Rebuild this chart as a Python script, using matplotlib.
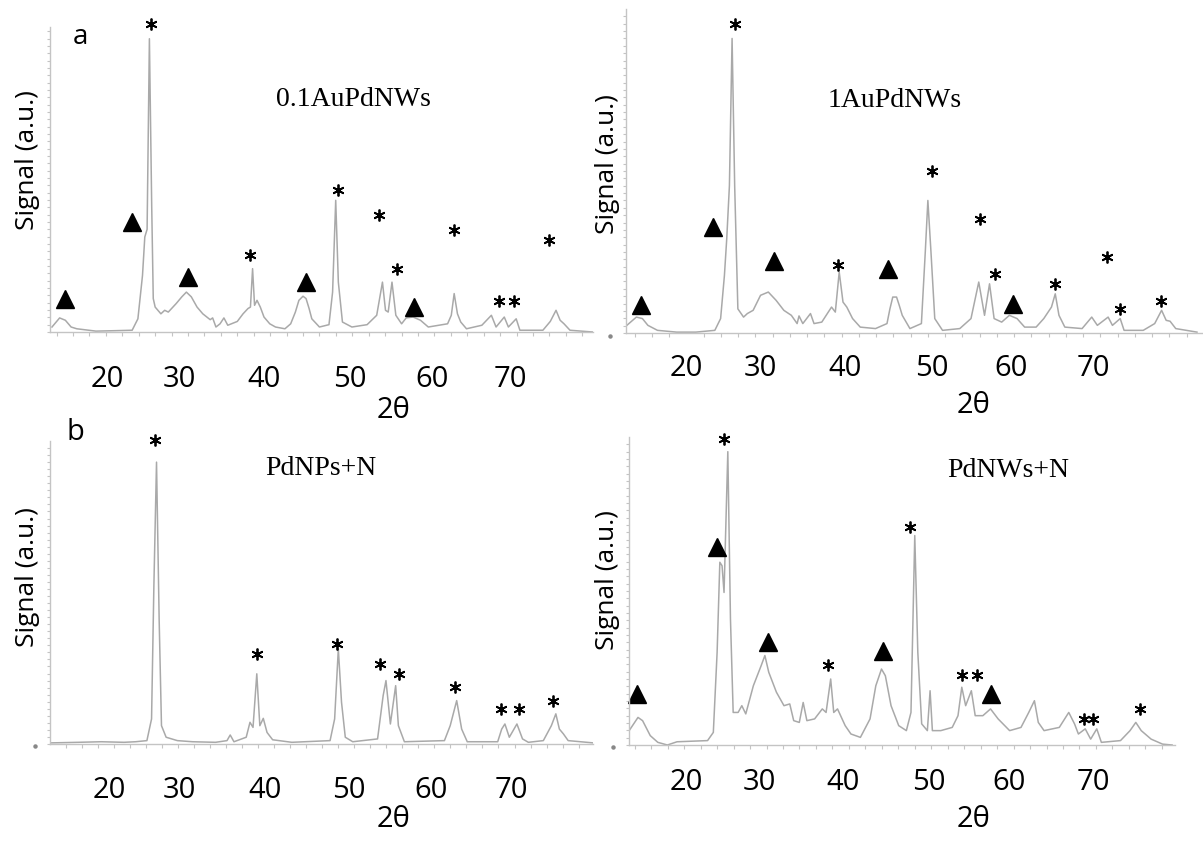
import numpy as np
import matplotlib
matplotlib.use("Agg")
import matplotlib.pyplot as plt
from matplotlib.lines import Line2D

W, H = 1203, 845

# ---- panel a: 0.1AuPdNWs ----
a_theta = [13.44, 14.37, 15.07, 15.77, 16.46, 18.79, 21.1, 23.2, 23.9, 24.46, 24.74, 25.02,
           25.3, 25.58, 25.77, 26.0, 26.7, 27.16, 27.6, 28.56, 29.25, 29.8, 30.4, 31.1,
           31.8, 32.7, 33.0, 33.4, 33.9, 34.37, 34.84, 36.0, 36.7, 37.3, 37.6, 37.86,
           38.1, 38.4, 38.8, 39.25, 39.95, 40.65, 41.8, 42.5, 43.07, 43.5, 44.0, 44.37,
           44.74, 45.07, 46.0, 47.16, 47.6, 47.98, 48.3, 48.8, 49.95, 51.8, 52.97, 53.67,
           54.04, 54.37, 54.83, 55.3, 56.0, 56.56, 57.4, 58.3, 59.25, 61.6, 62.05, 62.4,
           62.8, 63.2, 63.9, 65.77, 66.93, 67.5, 68.5, 69.0, 69.95, 70.4, 73.2, 74.1,
           74.8, 75.3, 75.77, 76.5, 79.25]
a_signal = [1.7, 4.8, 4.0, 1.7, 1.1, 0.3, 0.45, 0.6, 4.5, 19.3, 32.4, 35.0,
            100, 43.0, 11.4, 8.5, 6.2, 7.4, 6.8, 9.7, 12.0, 13.6, 12.0, 8.5,
            6.2, 4.2, 4.8, 1.7, 2.8, 4.8, 2.3, 3.6, 6.2, 8.0, 8.5, 21.6,
            9.1, 10.8, 8.5, 5.1, 2.8, 1.7, 1.1, 2.8, 6.8, 10.8, 12.2, 11.4,
            8.0, 4.5, 1.7, 2.5, 13.6, 44.9, 17.0, 3.4, 1.7, 2.5, 5.7, 17.0,
            7.4, 6.8, 17.0, 5.7, 2.8, 4.8, 5.1, 4.0, 1.7, 2.8, 5.7, 13.1,
            6.2, 3.4, 1.1, 2.3, 5.7, 1.7, 5.1, 1.7, 4.5, 0.6, 0.6, 3.6,
            7.4, 4.0, 2.8, 0.6, 0.0]
a_star_theta = [25.5, 37.6, 48.2, 53.3, 55.5, 62.4, 67.9, 69.7, 73.9]
a_star_h = [105, 26.4, 48.3, 39.8, 21.6, 34.7, 10.5, 10.5, 31.3]
a_tri_theta = [15.0, 23.2, 30.0, 44.4, 57.5]
a_tri_h = [11.4, 37.5, 18.8, 17.0, 8.5]
a_ticks = [20.2, 29.0, 39.3, 49.7, 59.7, 69.3]

# ---- panel b: 1AuPdNWs ----
b_theta = [13.1, 14.2, 14.9, 15.54, 16.65, 18.87, 21.1, 23.3, 23.97, 24.41, 24.68, 24.99,
           25.3, 25.6, 25.97, 26.63, 27.07, 27.74, 28.6, 29.5, 30.4, 31.3, 32.17, 32.84,
           33.06, 33.5, 34.39, 34.8, 35.7, 36.83, 37.27, 37.72, 38.16, 38.6, 39.27, 40.16,
           41.93, 43.26, 43.6, 43.93, 44.37, 44.68, 45.03, 45.92, 47.25, 47.7, 48.0, 48.36,
           48.8, 49.7, 51.7, 53.0, 53.9, 54.57, 55.15, 55.68, 56.56, 57.45, 58.34, 59.22,
           60.55, 61.44, 62.33, 62.77, 63.2, 63.88, 65.88, 67.0, 67.65, 68.9, 69.4, 70.3,
           70.75, 72.97, 74.3, 75.1, 75.63, 76.08, 76.74, 79.2]
b_signal = [2.6, 5.4, 4.9, 2.6, 0.9, 0.3, 0.3, 0.9, 4.9, 19.5, 32.0, 50.0,
            100, 50.0, 8.2, 5.4, 6.6, 7.7, 12.8, 13.9, 11.1, 7.7, 6.0, 3.2,
            5.8, 3.2, 6.6, 3.2, 3.7, 8.8, 7.1, 20.7, 10.5, 8.8, 4.9, 2.0,
            1.5, 3.2, 8.2, 12.2, 12.2, 9.4, 6.0, 1.5, 3.2, 27.5, 45.0, 27.5,
            4.9, 0.9, 1.5, 4.9, 17.3, 6.0, 16.7, 4.9, 3.7, 6.0, 4.9, 2.0,
            2.0, 4.9, 8.8, 13.3, 6.0, 2.0, 1.5, 5.4, 2.6, 5.4, 2.6, 4.9,
            0.9, 0.9, 3.2, 7.7, 4.3, 4.0, 1.5, 0.3]
b_star_theta = [25.6, 37.6, 48.5, 54.0, 55.8, 62.7, 68.8, 70.3, 75.05]
b_star_h = [105, 23.0, 55.0, 38.8, 20.0, 16.7, 25.8, 8.2, 11.0]
b_tri_theta = [14.7, 23.1, 30.2, 43.35, 57.9]
b_tri_h = [9.4, 36.0, 24.6, 21.8, 10.0]
b_ticks = [20.0, 28.6, 38.4, 48.4, 57.7, 67.2]

# ---- panel c: PdNPs+N ----
c_theta = [12.2, 15.54, 18.4, 21.25, 22.68, 24.1, 24.68, 24.97, 25.3, 25.63, 25.92, 26.5,
           27.9, 29.8, 32.68, 34.1, 34.5, 34.97, 36.5, 36.97, 37.35, 37.82, 38.2, 38.63,
           39.1, 39.8, 42.2, 46.97, 47.54, 48.0, 48.4, 48.87, 49.8, 52.9, 53.6, 53.95,
           54.5, 55.16, 55.5, 56.25, 61.25, 61.97, 62.78, 63.4, 64.1, 67.9, 68.4, 68.8,
           69.35, 70.3, 71.0, 71.73, 73.6, 74.6, 75.16, 75.6, 76.1, 76.7, 79.8]
c_signal = [0.4, 0.6, 0.8, 0.6, 0.8, 1.2, 8.9, 56.0, 100, 44.0, 6.5, 2.4,
            1.2, 0.8, 0.6, 1.2, 3.2, 0.8, 2.4, 7.7, 5.9, 24.9, 6.5, 9.1,
            4.1, 1.5, 0.6, 1.2, 8.9, 33.7, 14.8, 2.4, 0.8, 1.8, 17.2, 22.5,
            7.1, 20.7, 6.5, 0.8, 1.2, 6.5, 15.4, 5.3, 0.8, 0.8, 5.3, 7.1,
            2.4, 7.1, 1.8, 0.6, 1.2, 6.5, 10.7, 5.3, 3.6, 1.2, 0.4]
c_star_theta = [25.06, 37.8, 47.8, 53.2, 55.6, 62.6, 68.3, 70.6, 74.8]
c_star_h = [107.7, 32.0, 35.5, 28.4, 24.9, 20.1, 12.4, 12.4, 15.4]
c_ticks = [19.35, 28.2, 38.9, 49.35, 59.6, 69.6]

# ---- panel d: PdNWs+N ----
d_theta = [13.32, 14.39, 14.95, 15.88, 16.8, 17.96, 19.13, 22.84, 23.54, 24.0, 24.33, 24.6,
           24.84, 25.3, 25.62, 25.95, 26.55, 27.0, 27.48, 28.4, 29.34, 29.8, 30.27, 31.2,
           32.12, 32.82, 33.3, 33.98, 34.45, 34.9, 35.84, 36.77, 37.23, 37.79, 38.16, 38.62,
           39.55, 40.25, 41.4, 42.57, 43.27, 43.96, 44.43, 45.12, 46.05, 46.98, 47.54, 48.0,
           48.37, 48.84, 49.53, 49.86, 50.14, 51.16, 52.55, 53.25, 53.71, 54.18, 54.87, 55.34,
           56.27, 57.2, 58.12, 59.52, 60.9, 61.84, 62.53, 63.0, 63.7, 65.55, 66.7, 67.4,
           67.87, 68.7, 69.36, 70.1, 70.66, 72.98, 74.14, 74.84, 75.5, 76.7, 78.09, 79.25]
d_signal = [4.9, 9.4, 8.3, 3.2, 0.9, 0.0, 1.1, 1.5, 4.3, 31.6, 62.3, 61.1,
            52.0, 100, 43.0, 11.1, 11.1, 13.4, 10.6, 20.2, 27.0, 30.5, 24.8, 18.0,
            13.4, 14.0, 8.3, 7.7, 14.5, 8.3, 8.9, 12.3, 11.1, 22.5, 11.1, 12.3,
            6.6, 3.75, 2.6, 8.9, 20.2, 25.9, 23.6, 13.4, 6.6, 4.9, 11.1, 71.4,
            31.6, 7.2, 4.9, 18.5, 4.9, 4.9, 6.0, 10.0, 19.7, 13.4, 18.5, 10.0,
            10.0, 12.3, 8.9, 4.9, 6.0, 11.1, 15.1, 7.7, 4.9, 6.0, 11.1, 7.2,
            3.75, 5.5, 2.0, 5.5, 0.9, 1.5, 4.9, 7.7, 4.9, 2.0, 0.3, 0.0]
d_star_theta = [24.8, 37.5, 47.45, 53.7, 55.6, 68.6, 69.7, 75.3]
d_star_h = [104.3, 27.3, 74.2, 23.9, 23.9, 8.9, 8.9, 12.3]
d_tri_theta = [14.25, 24.0, 30.2, 44.2, 57.2]
d_tri_h = [17.4, 67.4, 35.0, 32.2, 17.4]
d_ticks = [20.3, 29.1, 39.3, 49.7, 59.5, 69.7]

tick_labels = ["20", "30", "40", "50", "60", "70"]

SANS = "Open Sans"
SERIF = "Liberation Serif"
LINE = "#a9a9a9"
AXIS = "#c4c4c4"


def px_rect(l, t, r, b):
    return [l / W, 1 - b / H, (r - l) / W, (b - t) / H]


def draw_panel(fig, box, xlim, ylim, theta, signal, stars, tris, ticks, pad,
               title, title_xy):
    ax = fig.add_axes(px_rect(*box))
    ax.plot(theta, signal, color=LINE, lw=1.1)
    ax.plot(stars[0], stars[1], ls="none", marker=(6, 2, 0), ms=8.5, mew=1.3,
            color="k", clip_on=False)
    if tris is not None:
        ax.plot(tris[0], tris[1], ls="none", marker="^", ms=13, color="k",
                clip_on=False)
    ax.set_xlim(*xlim)
    ax.set_ylim(*ylim)
    for s in ["top", "right"]:
        ax.spines[s].set_visible(False)
    for s in ["left", "bottom"]:
        ax.spines[s].set_color(AXIS)
        ax.spines[s].set_linewidth(1.0)
    ax.set_xticks(ticks, tick_labels, fontsize=21, family=SANS)
    ax.set_xticks(np.arange(14, xlim[1], 2), minor=True)
    ax.tick_params(axis="x", which="major", length=0, pad=pad)
    ax.tick_params(axis="x", which="minor", length=3, width=0.8, color=AXIS)
    ax.set_yticks([])
    ax.set_yticks(np.arange(0, ylim[1], 2.5), minor=True)
    ax.tick_params(axis="y", which="minor", length=2.5, width=0.8, color=AXIS)
    ax.text(title_xy[0], title_xy[1], title, transform=ax.transAxes,
            ha="center", va="center", fontsize=20, family=SERIF)
    return ax


fig = plt.figure(figsize=(W / 100, H / 100), dpi=100)

ax_a = draw_panel(fig, (50, 28, 593, 333), (13.2, 79.3), (0, 104),
                  a_theta, a_signal, (a_star_theta, a_star_h), (a_tri_theta, a_tri_h),
                  a_ticks, 23, "0.1AuPdNWs", (0.558, 0.764))
ax_b = draw_panel(fig, (626, 10, 1203, 334), (13.0, 79.9), (0, 110),
                  b_theta, b_signal, (b_star_theta, b_star_h), (b_tri_theta, b_tri_h),
                  b_ticks, 14.5, "1AuPdNWs", (0.466, 0.722))
ax_c = draw_panel(fig, (50, 442, 593, 745), (12.0, 79.8), (0, 107.5),
                  c_theta, c_signal, (c_star_theta, c_star_h), None,
                  c_ticks, 22.5, "PdNPs+N", (0.499, 0.914))
ax_d = draw_panel(fig, (629, 438, 1175, 746), (13.3, 79.6), (0, 105),
                  d_theta, d_signal, (d_star_theta, d_star_h), (d_tri_theta, d_tri_h),
                  d_ticks, 16, "PdNWs+N", (0.694, 0.896))

# panel letters
fig.text(80 / W, 1 - 37 / H, "a", ha="center", va="center", fontsize=20, family=SANS)
fig.text(75 / W, 1 - 433 / H, "b", ha="center", va="center", fontsize=21, family=SANS)

# axis titles
for x, y in [(28, 160), (607, 164), (28, 577), (608, 580)]:
    fig.text(x / W, 1 - y / H, "Signal (a.u.)", rotation=90, ha="center",
             va="center", fontsize=19, family=SANS)
for x, y in [(394, 410), (973, 406), (394, 820), (973, 820)]:
    fig.text(x / W, 1 - y / H, "2θ", ha="center", va="center", fontsize=21,
             family=SANS)

# small origin dots
for x, y in [(610, 337), (35, 747), (613, 748)]:
    fig.add_artist(Line2D([x / W], [1 - y / H], transform=fig.transFigure,
                          marker="o", ms=2.2, color="#888888", ls="none"))

fig.savefig("out.png", dpi=100)
